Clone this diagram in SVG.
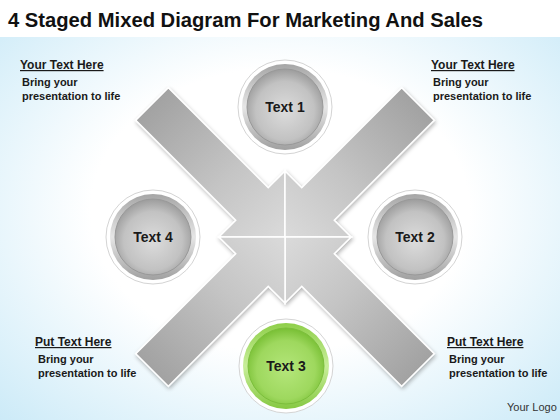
<svg xmlns="http://www.w3.org/2000/svg" width="560" height="420" viewBox="0 0 560 420">
<defs>
<radialGradient id="bg" cx="0.5" cy="0.5" r="0.75">
<stop offset="0" stop-color="#ffffff"/>
<stop offset="0.45" stop-color="#ffffff"/>
<stop offset="1" stop-color="#c6e8f7"/>
</radialGradient>
<linearGradient id="arm" gradientUnits="userSpaceOnUse" x1="-188" y1="0" x2="0" y2="0">
<stop offset="0" stop-color="#a2a2a2"/>
<stop offset="0.55" stop-color="#c4c4c4"/>
<stop offset="1" stop-color="#dadada"/>
</linearGradient>
<linearGradient id="ringG" x1="0" y1="0" x2="0" y2="1">
<stop offset="0" stop-color="#a6a6a6"/>
<stop offset="0.5" stop-color="#e6e6e6"/>
<stop offset="1" stop-color="#a0a0a0"/>
</linearGradient>
<radialGradient id="discG" cx="0.5" cy="0.55" r="0.55">
<stop offset="0" stop-color="#dcdcdc"/>
<stop offset="0.7" stop-color="#c2c2c2"/>
<stop offset="1" stop-color="#9c9c9c"/>
</radialGradient>
<linearGradient id="ringGr" x1="0" y1="0" x2="0" y2="1">
<stop offset="0" stop-color="#8fcf4a"/>
<stop offset="0.5" stop-color="#c8ee9a"/>
<stop offset="1" stop-color="#86c842"/>
</linearGradient>
<radialGradient id="discGr" cx="0.5" cy="0.55" r="0.55">
<stop offset="0" stop-color="#b4e67a"/>
<stop offset="0.7" stop-color="#9ed85e"/>
<stop offset="1" stop-color="#78bf34"/>
</radialGradient>
<filter id="sh" x="-20%" y="-20%" width="140%" height="140%">
<feGaussianBlur in="SourceAlpha" stdDeviation="2"/>
<feOffset dx="1" dy="2" result="b"/>
<feComponentTransfer><feFuncA type="linear" slope="0.3"/></feComponentTransfer>
<feMerge><feMergeNode/><feMergeNode in="SourceGraphic"/></feMerge>
</filter>
<polygon id="piece" points="0,0 -46.7,-46.7 -46.7,-23 -188,-23 -188,23 -46.7,23 -46.7,46.7"/>
</defs>
<style>
.title{font-family:"Liberation Sans",Arial,sans-serif;font-weight:bold;font-size:21px;fill:#111}
.hd{font-family:"Liberation Sans",Arial,sans-serif;font-weight:bold;font-size:12px;fill:#1a1a1a;text-decoration:underline}
.bd{font-family:"Liberation Sans",Arial,sans-serif;font-weight:bold;font-size:11px;fill:#1a1a1a}
.lbl{font-family:"Liberation Sans",Arial,sans-serif;font-weight:bold;font-size:14px;fill:#1a1a1a;text-anchor:middle}
.logo{font-family:"Liberation Sans",Arial,sans-serif;font-size:11px;fill:#333}
.pc{fill:url(#arm);stroke:#ffffff;stroke-width:1.5;stroke-linejoin:miter}
.halo{fill:#ffffff;stroke:#d4d4d4;stroke-width:1}
.ring{fill:url(#ringG)}
.disc{fill:url(#discG);stroke:#999;stroke-width:1}
.ringg{fill:url(#ringGr)}
.discg{fill:url(#discGr);stroke:#7cbf3c;stroke-width:1}
</style>
<rect x="0" y="0" width="560" height="420" fill="url(#bg)"/>
<rect x="0" y="0" width="560" height="37" fill="#ffffff"/>
<text class="title" x="8" y="27" textLength="475" lengthAdjust="spacingAndGlyphs">4 Staged Mixed Diagram For Marketing And Sales</text>

<g id="connectors" filter="url(#sh)">
<use href="#piece" class="pc" transform="translate(285,237) rotate(45)"/>
<use href="#piece" class="pc" transform="translate(285,237) rotate(135)"/>
<use href="#piece" class="pc" transform="translate(285,237) rotate(-135)"/>
<use href="#piece" class="pc" transform="translate(285,237) rotate(-45)"/>
</g>

<g id="node1">
<circle class="halo" cx="285" cy="107" r="47"/>
<circle class="ring" cx="285" cy="107" r="43"/>
<circle class="disc" cx="285" cy="107" r="38"/>
<text class="lbl" x="285" y="112">Text 1</text>
</g>
<g id="node2">
<circle class="halo" cx="415" cy="237" r="47"/>
<circle class="ring" cx="415" cy="237" r="43"/>
<circle class="disc" cx="415" cy="237" r="38"/>
<text class="lbl" x="415" y="242">Text 2</text>
</g>
<g id="node3">
<circle class="halo" cx="286" cy="366" r="47"/>
<circle class="ringg" cx="286" cy="366" r="43"/>
<circle class="discg" cx="286" cy="366" r="38"/>
<text class="lbl" x="286" y="371">Text 3</text>
</g>
<g id="node4">
<circle class="halo" cx="153" cy="237" r="47"/>
<circle class="ring" cx="153" cy="237" r="43"/>
<circle class="disc" cx="153" cy="237" r="38"/>
<text class="lbl" x="153" y="242">Text 4</text>
</g>

<g id="note-tl">
<text class="hd" x="20" y="69">Your Text Here</text>
<text class="bd" x="22" y="86">Bring your</text>
<text class="bd" x="22" y="100">presentation  to life</text>
</g>
<g id="note-tr">
<text class="hd" x="431" y="69">Your Text Here</text>
<text class="bd" x="433" y="86">Bring your</text>
<text class="bd" x="433" y="100">presentation  to life</text>
</g>
<g id="note-bl">
<text class="hd" x="35" y="346">Put Text Here</text>
<text class="bd" x="38" y="363">Bring your</text>
<text class="bd" x="38" y="377">presentation  to life</text>
</g>
<g id="note-br">
<text class="hd" x="447" y="346">Put Text Here</text>
<text class="bd" x="449" y="363">Bring your</text>
<text class="bd" x="449" y="377">presentation  to life</text>
</g>
<text class="logo" x="507" y="411">Your Logo</text>
</svg>
